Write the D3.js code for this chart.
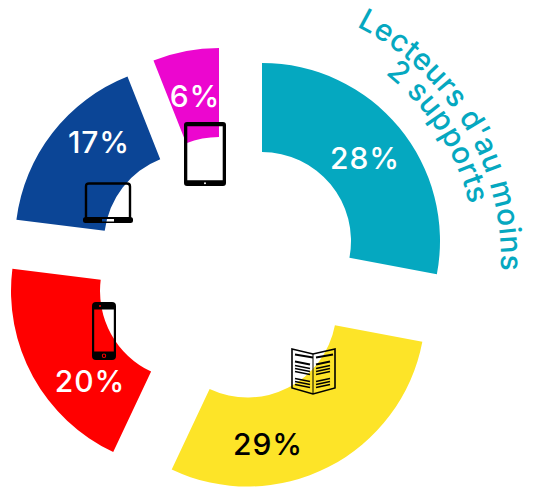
<!DOCTYPE html>
<html lang="fr">
<head>
<meta charset="utf-8">
<title>Lecteurs d'au moins 2 supports</title>
<script src="https://cdn.jsdelivr.net/npm/d3@7"></script>
<style>
  html, body { margin: 0; padding: 0; background: #fff; }
  svg { display: block; }
  text { font-family: Inter, "Noto Sans", sans-serif; }
</style>
</head>
<body>
<svg id="chart" width="533" height="491"></svg>
<script>
// Readership shares per medium, clockwise from twelve o'clock
const supports = ["Journal en ligne", "Papier", "Mobile", "Ordinateur", "Tablette"];
const shares = [28, 29, 20, 17, 6];
const colours = ["#05a8c0", "#fde428", "#ff0000", "#0b4596", "#ec06cf"];
const labelInks = ["#ffffff", "#000000", "#ffffff", "#ffffff", "#ffffff"];

// Title set on two concentric arcs
const titleLines = ["Lecteurs d'au moins", "2 supports"];

// Each wedge is pulled away from the ring by hand: apex and label placement
const apexes = [[262, 241], [247.5, 308.5], [189, 291], [193, 242], [219, 226]];
const labelSpots = [[365, 158], [268, 444], [90, 381], [99, 142], [195, 96]];

const svg = d3.select("#chart");

const pie = d3.pie().sort(null).value(d => d);
const arc = d3.arc().innerRadius(89).outerRadius(178);

const wedges = pie(shares);

svg.append("g").selectAll("path")
  .data(wedges)
  .join("path")
  .attr("transform", (d, i) => `translate(${apexes[i]})`)
  .attr("d", arc)
  .attr("fill", (d, i) => colours[i])
  .append("title")
  .text((d, i) => supports[i]);

svg.append("g").selectAll("text")
  .data(wedges)
  .join("text")
  .attr("x", (d, i) => labelSpots[i][0])
  .attr("y", (d, i) => labelSpots[i][1])
  .attr("text-anchor", "middle")
  .attr("dominant-baseline", "central")
  .attr("font-size", 30)
  .attr("font-weight", 500)
  .attr("letter-spacing", 0.9)
  .attr("fill", (d, i) => labelInks[i])
  .text(d => `${d.value}%`);

// Curved title
const titleCentre = [240, 260];
const titleArcs = [
  { radius: 261, start: 26.5, end: 100, size: 30, spacing: 0.5 },
  { radius: 236, start: 38, end: 95, size: 30, spacing: 0.4 }
];
const defs = svg.append("defs");
titleArcs.forEach((a, i) => {
  const toPoint = deg => {
    const t = deg * Math.PI / 180;
    return [titleCentre[0] + a.radius * Math.sin(t), titleCentre[1] - a.radius * Math.cos(t)];
  };
  const [x0, y0] = toPoint(a.start);
  const [x1, y1] = toPoint(a.end);
  defs.append("path")
    .attr("id", `title-arc-${i}`)
    .attr("d", `M${x0},${y0}A${a.radius},${a.radius} 0 0 1 ${x1},${y1}`);
  svg.append("text")
    .attr("font-size", a.size)
    .attr("font-weight", 500)
    .attr("letter-spacing", a.spacing)
    .attr("fill", colours[0])
    .append("textPath")
    .attr("href", `#title-arc-${i}`)
    .text(titleLines[i]);
});

// Device pictograms: bezels are cut out so the wedge colours show through
const icons = svg.append("g");

const roundedRect = (x, y, w, h, r) =>
  `M${x + r},${y}H${x + w - r}Q${x + w},${y} ${x + w},${y + r}V${y + h - r}Q${x + w},${y + h} ${x + w - r},${y + h}` +
  `H${x + r}Q${x},${y + h} ${x},${y + h - r}V${y + r}Q${x},${y} ${x + r},${y}Z`;
const dot = (cx, cy, r) => `M${cx - r},${cy}a${r},${r} 0 1 0 ${2 * r},0a${r},${r} 0 1 0 ${-2 * r},0Z`;

// Tablet
icons.append("path")
  .attr("transform", "translate(184,122)")
  .attr("fill-rule", "evenodd")
  .attr("fill", "#000")
  .attr("d", roundedRect(0, 0, 42, 64, 3) + roundedRect(3.3, 4.3, 35.4, 54, 0) + dot(21, 61.2, 1));

// Laptop
const laptop = icons.append("g").attr("transform", "translate(83,182)");
laptop.append("path")
  .attr("d", "M3,35V4.5Q3,1.5 6,1.5H44Q47,1.5 47,4.5V35")
  .attr("fill", "none").attr("stroke", "#000").attr("stroke-width", 2.4);
laptop.append("path")
  .attr("fill-rule", "evenodd")
  .attr("fill", "#000")
  .attr("d", roundedRect(0, 35, 50, 6, 2.5) + roundedRect(19, 37, 12, 2.4, 0));

// Phone
icons.append("path")
  .attr("transform", "translate(92,302)")
  .attr("fill-rule", "evenodd")
  .attr("fill", "#000")
  .attr("d", roundedRect(0, 0, 24, 58, 4) + roundedRect(2.2, 7.5, 19.6, 42, 0) + dot(12, 53.8, 2.2) + dot(12, 53.8, 1.2) + dot(8, 4, 1));

// Open newspaper
const paper = icons.append("g").attr("transform", "translate(291,347)")
  .attr("fill", "none").attr("stroke", "#000");
paper.append("path")
  .attr("d", "M1,2L22,7L44,2V41L22,47L1,41Z")
  .attr("stroke-width", 1.6);
paper.append("path").attr("d", "M22,7V47").attr("stroke-width", 1);
const rows = [[7, 18, 1.9], [14, 15, 1.9], [18, 15, 1.5], [21, 15, 1.5], [24, 15, 1.5], [31, 15, 1.5], [34, 15, 1.5], [37, 15, 1.5]];
rows.forEach(([y, w, sw]) => {
  paper.append("path").attr("d", `M4,${y + 0.5}L${4 + w},${y + 3.5}`).attr("stroke-width", sw);
  paper.append("path").attr("d", `M25,${y + 3.5}L${25 + w - 1},${y + 0.5}`).attr("stroke-width", sw);
});
</script>
</body>
</html>
